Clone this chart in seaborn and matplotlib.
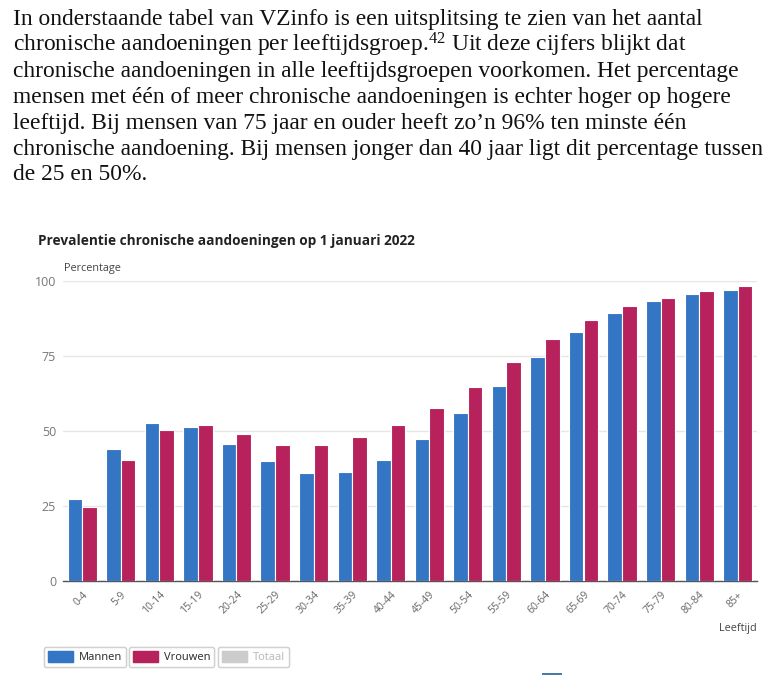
import numpy as np
import pandas as pd
import matplotlib
matplotlib.use("Agg")
import matplotlib.pyplot as plt
import seaborn as sns
from matplotlib.patches import Patch, Rectangle

# data
age_groups = ["0-4", "5-9", "10-14", "15-19", "20-24", "25-29", "30-34", "35-39", "40-44",
              "45-49", "50-54", "55-59", "60-64", "65-69", "70-74", "75-79", "80-84", "85+"]
mannen = [27.5, 43.9, 52.7, 51.4, 45.8, 40.1, 36.0, 36.3, 40.4,
          47.4, 56.1, 64.9, 74.7, 83.0, 89.5, 93.2, 95.8, 97.0]
vrouwen = [24.7, 40.4, 50.5, 52.1, 49.0, 45.4, 45.4, 48.0, 52.0,
           57.7, 64.6, 73.1, 80.7, 87.0, 91.7, 94.5, 96.7, 98.2]
y_ticks = [0, 25, 50, 75, 100]

paragraph = [
    "In onderstaande tabel van VZinfo is een uitsplitsing te zien van het aantal",
    "chronische aandoeningen per leeftijdsgroep.$^{42}$ Uit deze cijfers blijkt dat",
    "chronische aandoeningen in alle leeftijdsgroepen voorkomen. Het percentage",
    "mensen met één of meer chronische aandoeningen is echter hoger op hogere",
    "leeftijd. Bij mensen van 75 jaar en ouder heeft zo’n 96% ten minste één",
    "chronische aandoening. Bij mensen jonger dan 40 jaar ligt dit percentage tussen",
    "de 25 en 50%.",
]

df = pd.DataFrame({
    "leeftijd": age_groups * 2,
    "percentage": mannen + vrouwen,
    "geslacht": ["Mannen"] * len(age_groups) + ["Vrouwen"] * len(age_groups),
})

sns.set_style("white")
plt.rcParams["font.family"] = ["Open Sans", "DejaVu Sans"]
plt.rcParams["mathtext.default"] = "regular"

blue = "#3476c4"
red = "#b8225c"

W, H = 773, 675
fig = plt.figure(figsize=(W / 100, H / 100), dpi=100)

# paragraph of body text above the chart
for i, line in enumerate(paragraph):
    fig.text(13 / W, 1 - (19 + 26 * i) / H, line, fontsize=16.9,
             family=["Liberation Serif", "DejaVu Serif"], va="center", ha="left",
             color="#111111")

fig.text(38 / W, 1 - 241 / H, "Prevalentie chronische aandoeningen op 1 januari 2022",
         fontsize=9.8, fontweight="bold", color="#222222", va="center", ha="left")

ax = fig.add_axes([63 / W, 1 - 581 / H, 694 / W, 300 / H])
sns.barplot(data=df, x="leeftijd", y="percentage", hue="geslacht",
            palette={"Mannen": blue, "Vrouwen": red}, width=0.76, saturation=1,
            edgecolor="white", linewidth=0.8, ax=ax, legend=False, zorder=3)

ax.set_xlim(-0.5, len(age_groups) - 0.5)
ax.set_ylim(0, 100)
ax.set_yticks(y_ticks)
ax.set_yticklabels([str(t) for t in y_ticks], color="#777777", fontsize=9)
ax.tick_params(axis="y", length=0, pad=5)
ax.grid(axis="y", color="#e6e6e6", linewidth=1, zorder=0)
ax.set_axisbelow(True)

ax.set_xticks(range(len(age_groups)))
ax.set_xticklabels(age_groups, rotation=45, ha="right", rotation_mode="anchor",
                   fontsize=7.5, color="#666666")
ax.tick_params(axis="x", which="major", length=0, pad=6)
ax.set_xticks(np.arange(-0.5, len(age_groups)), minor=True)
ax.tick_params(axis="x", which="minor", length=4, color="#555555", width=0.8)

for s in ["top", "right", "left"]:
    ax.spines[s].set_visible(False)
ax.spines["bottom"].set_color("#555555")
ax.spines["bottom"].set_linewidth(1)
ax.set_xlabel("")
ax.set_ylabel("")

fig.text(64 / W, 1 - 268 / H, "Percentage", fontsize=7.8, color="#444444",
         va="center", ha="left")
fig.text(757 / W, 1 - 628 / H, "Leeftijd", fontsize=7.8, color="#444444",
         va="center", ha="right")

# legend buttons
entries = [("Mannen", blue, "#333333", 44), ("Vrouwen", red, "#333333", 129),
           ("Totaal", "#cccccc", "#bbbbbb", 218)]
for label, col, tcol, x0 in entries:
    leg = fig.legend(handles=[Patch(facecolor=col, edgecolor=col)], labels=[label],
                     loc="center left", bbox_to_anchor=(x0 / W, 1 - 657 / H),
                     fontsize=8, frameon=True, fancybox=True, edgecolor="#cccccc",
                     handlelength=2.3, handleheight=1.1, handletextpad=0.5,
                     borderpad=0.35, borderaxespad=0)
    leg.get_frame().set_linewidth(1)
    for t in leg.get_texts():
        t.set_color(tcol)
    fig.add_artist(leg)

# cut-off element at the bottom edge
fig.patches.append(Rectangle((542 / W, 0), 20 / W, 2 / H, transform=fig.transFigure,
                             facecolor="#4a7aa8", edgecolor="none"))

fig.savefig("out.png", dpi=100)
